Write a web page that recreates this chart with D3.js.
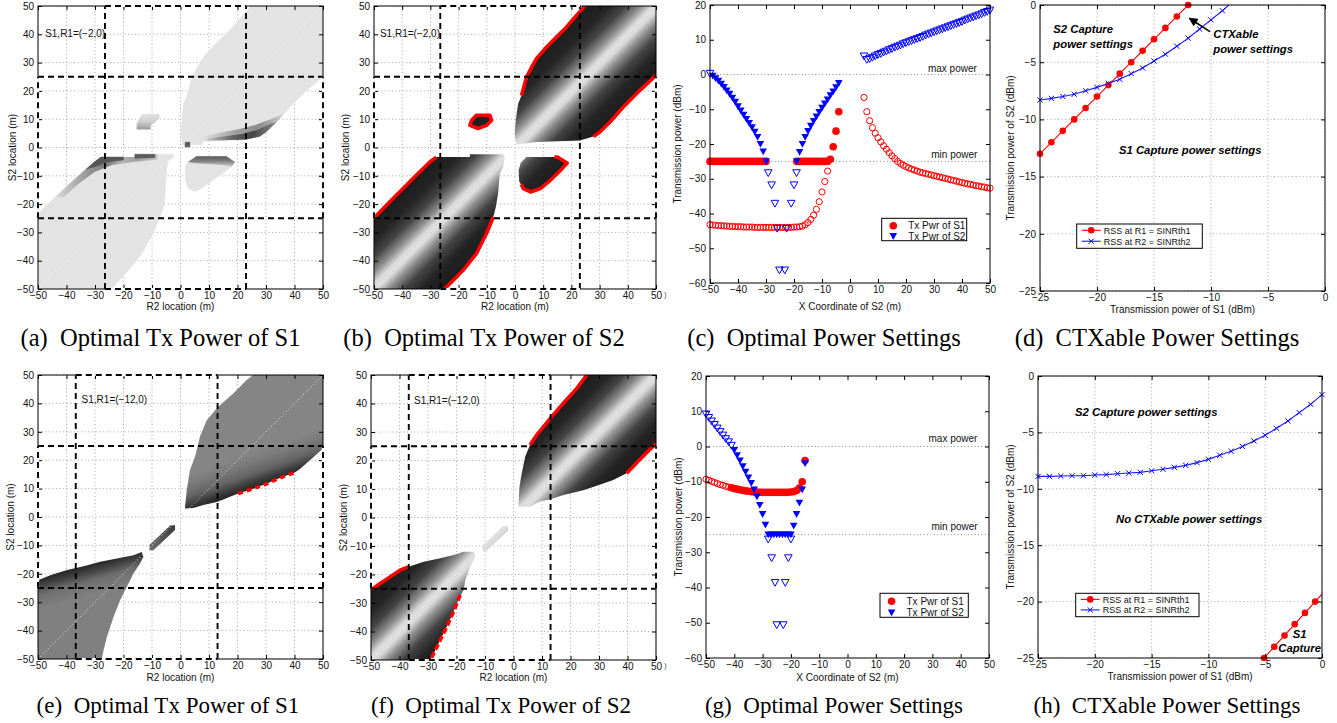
<!DOCTYPE html>
<html><head><meta charset="utf-8">
<script src="https://cdn.jsdelivr.net/npm/d3@7/dist/d3.min.js"></script>
<style>
body{margin:0;background:#fff;}
svg{display:block;font-family:"Liberation Sans",Arial,sans-serif;background:#fff;}
.cap{font-family:"Liberation Serif","Times New Roman",serif;white-space:pre;}
</style></head><body>
<svg id="fig" width="1337" height="723"></svg>
<script>
// ---------------- DATA ----------------
const heatTicks=[-50,-40,-30,-20,-10,0,10,20,30,40,50];
const powTicksY=[-60,-50,-40,-30,-20,-10,0,10,20];
const ctxTicks=[-25,-20,-15,-10,-5,0];
const diagLine=[[-50,-50],[50,50]];
const captionsTop=["(a)  Optimal Tx Power of S1","(b)  Optimal Tx Power of S2","(c)  Optimal Power Settings","(d)  CTXable Power Settings"];
const captionsBottom=["(e)  Optimal Tx Power of S1","(f)  Optimal Tx Power of S2","(g)  Optimal Power Settings","(h)  CTXable Power Settings"];

// (a) regions
const aDashX=[-26.5,23], aDashY=[-25,25];
const aRegionUR=[[0.6,1.0],[0.2,4.9],[0.5,10],[1.1,15.5],[2.3,18.4],[4.1,24.9],[5.9,28.4],[7.6,31.4],[11.2,35.5],[14.7,39.0],[18.3,42.6],[21.8,46.7],[24.8,50],[50,50],[50,25],[44.3,20.2],[38.4,14.3],[33.7,9],[30.1,5.5],[27.8,3.9],[23,2.8],[8,2.3],[7.6,1.0]];
const aBandUR=[[8,2.3],[23,2.8],[27.8,3.9],[30.1,5.5],[33.7,9],[36,11.7],[32,10.2],[27,8.2],[21,6.6],[14,5.2],[8,3.8]];
const aCoreUR=[[9,2.4],[23,2.8],[27.8,3.9],[30.1,5.5],[33.7,9],[31.5,8.4],[27,6.2],[22,4.9],[15,3.9],[10,3.3]];
const aDarkCell=[[1.6,0.2],[3.3,0.2],[3.3,1.9],[1.6,1.9]];
const aRegionLL=[[-50,-23.3],[-45,-18.5],[-40,-13.8],[-34.2,-8.5],[-30.2,-5.1],[-27.9,-3.4],[-16,-3.4],[-16,-2.4],[-2.5,-2.4],[-2.5,-3.6],[-4.2,-4.6],[-4.8,-6.9],[-5.2,-13],[-5.6,-20],[-7.2,-24.6],[-9.7,-30.4],[-13.5,-37.5],[-18.2,-43.4],[-22.5,-48.1],[-24.2,-50],[-50,-50]];
const aBandLL=[[-44,-17.5],[-40,-13.8],[-34.2,-8.5],[-30.2,-5.1],[-27.9,-3.4],[-16,-3.4],[-16,-2.4],[-8,-2.4],[-8,-4.2],[-16,-5],[-24,-6.2],[-30,-8.6],[-36,-13],[-41,-17.5]];
const aCoreLL1=[[-33,-7.6],[-30.2,-5.1],[-27.9,-3.4],[-20,-3.4],[-20,-4.4],[-26,-5.2],[-30,-6.8]];
const aCoreLL2=[[-16,-2.4],[-9,-2.4],[-9,-3.6],[-16,-3.8]];
const aIsland=[[-13.5,11.8],[-7.4,11.8],[-7.4,10.2],[-10.5,7.8],[-10.5,6.4],[-15.4,6.4],[-15.4,8.5]];
const aBlob=[[5.6,-3.1],[16.1,-3.1],[19.1,-5.1],[17.9,-6.8],[11.4,-11.5],[6.7,-14.8],[5,-15.6],[2.6,-14.4],[1.8,-11.5],[1.8,-6.8],[2.6,-5.1]];
const aBandBlob=[[5.6,-3.1],[16.1,-3.1],[19.1,-5.1],[17.9,-6.8],[15,-6.3],[10,-5.8],[5,-5.6],[2.6,-5.1]];

// (b) regions
const bDashX=[-26.5,23], bDashY=[-25,25];
const bRegionUR=[[0.5,1.1],[-0.1,4.9],[0.3,10],[1.1,15.5],[2.3,18.4],[4.1,24.9],[5.9,28.4],[7.6,31.4],[11.2,35.5],[14.7,39.0],[18.3,42.6],[21.8,46.7],[24.8,50],[50,50],[50,25.5],[44.3,20.2],[38.4,14.3],[33.7,9],[30.1,5.5],[27.8,3.9],[23,2.5],[7.6,1.9]];
const bRedUR1=[[2.3,18.4],[4.1,24.9],[5.9,28.4],[7.6,31.4],[11.2,35.5],[14.7,39.0],[18.3,42.6],[21.8,46.7],[24.8,50]];
const bRedUR2=[[50,25.5],[44.3,20.2],[38.4,14.3],[33.7,9],[30.1,5.5],[27.8,3.9]];
const bRegionLL=[[-50,-24.9],[-45,-19.8],[-39.7,-14.5],[-34.4,-9.2],[-30.2,-5.1],[-27.9,-3.4],[-16,-3.4],[-16,-2.4],[-4.2,-2.4],[-3.6,-3.4],[-4.2,-6.9],[-5.4,-9.2],[-6,-16.3],[-6.8,-21],[-7.7,-24.6],[-10.1,-30.4],[-13.7,-37.5],[-18.4,-43.4],[-23.1,-48.1],[-24.9,-50],[-50,-50]];
const bRedLL1=[[-50,-24.9],[-45,-19.8],[-39.7,-14.5],[-34.4,-9.2],[-30.2,-5.1],[-27.9,-3.4]];
const bRedLL2=[[-7.7,-24.6],[-10.1,-30.4],[-13.7,-37.5],[-18.4,-43.4],[-23.1,-48.1],[-24.9,-50]];
const bIsland=[[-13.7,11.4],[-8.9,11.4],[-8.3,9.6],[-10.1,7.8],[-13.1,6.7],[-16,7.8],[-15.4,9.6]];
const bBlob=[[4,-3.4],[15,-3.4],[18.5,-5.5],[16,-8.2],[12.5,-11.6],[9,-14.5],[5.5,-15.7],[3,-14.5],[1.5,-12],[1.3,-8],[2,-5.5]];
const bRedBlob=[[14,-3.4],[15,-3.4],[18.5,-5.5],[16,-8.2],[12.5,-11.6],[9,-14.5],[5.5,-15.7],[3,-14.5],[2.2,-13]];

// (e) regions
const eDashX=[-36.75,13], eDashY=[-25,25];
const eRegionUR=[[1.6,3.6],[2.2,9.5],[3.3,16.5],[5.1,21.2],[6.8,28.3],[9.2,34.1],[13.2,38.8],[18.5,43.5],[23.2,48.2],[25.5,50],[50,50],[50,24.1],[46,20.5],[42,17],[40.1,15.7],[35,13.8],[30,11.6],[25,9.8],[20.2,8.3],[15,6.2],[12.7,5.3],[8,4.2],[4.5,3.2],[1.6,3.0]];
const eRedUR=[[20.2,8.3],[25,9.8],[30,11.6],[35,13.8],[40.1,15.7]];
const eRegionLL=[[-50,-22.3],[-45.7,-20.5],[-39.8,-18.7],[-34,-17.3],[-28.2,-15.8],[-22.3,-14.6],[-16.5,-13.5],[-13.6,-12.3],[-13,-14],[-14.2,-16.4],[-16.5,-19.9],[-18.8,-24.6],[-21.2,-29.3],[-23.5,-35.2],[-25.8,-42.2],[-27,-46.9],[-27.6,-50],[-50,-50]];
const eIsland=[[-3.5,-2.9],[-1.9,-2.9],[-1.9,-4.6],[-9.5,-11.7],[-10.9,-11.7],[-10.9,-9.9]];

// (f) regions
const fDashX=[-36.75,13], fDashY=[-25,25];
const fRegionUR=[[1.8,3.8],[1.8,6.1],[2.1,10.8],[2.9,15.5],[4.1,21.3],[5.8,25.4],[8.2,29],[12.9,34.8],[17.5,40.1],[22.2,45.3],[25.7,50],[50,50],[50,26],[44.5,20.5],[39.7,15.5],[35,13.2],[29.2,11.1],[24.5,9.6],[17.5,7.9],[12.9,6.4],[9.3,5.6],[5.8,3.8]];
const fRedUR1=[[5.8,25.4],[8.2,29],[12.9,34.8],[17.5,40.1],[22.2,45.3],[25.7,50]];
const fRedUR2=[[39.7,15.5],[44.5,20.5],[50,26]];
const fRegionLL=[[-50,-25.4],[-46.7,-23.1],[-43.2,-20.8],[-39.7,-18.4],[-36.8,-17.3],[-31.5,-15.5],[-25.7,-14.3],[-21,-13.2],[-17.5,-12],[-14,-12],[-13.4,-13.7],[-15.2,-17.3],[-16.9,-21.9],[-17.5,-25.4],[-19.3,-28.9],[-21,-33],[-23.4,-38.3],[-25.7,-43],[-28,-47.7],[-29.2,-50],[-50,-50]];
const fRedLL1=[[-50,-25.4],[-46.7,-23.1],[-43.2,-20.8],[-39.7,-18.4],[-36.8,-17.3]];
const fRedLL2=[[-18.7,-27.2],[-21,-33],[-23.4,-38.3],[-25.7,-43],[-28,-47.7],[-29.2,-50]];
const fIsland=[[-3.5,-2.9],[-1.9,-2.9],[-1.9,-4.6],[-9.5,-11.7],[-10.9,-11.7],[-10.9,-9.9]];

// (c) optimal power settings, S1/R1 = (-2,0)
const cS1Open=[[-50,-43.2],[-49,-43.3],[-48,-43.4],[-47,-43.5],[-46,-43.5],[-45,-43.6],[-44,-43.6],[-43,-43.7],[-42,-43.7],[-41,-43.8],[-40,-43.8],[-39,-43.8],[-38,-43.9],[-37,-43.9],[-36,-43.9],[-35,-43.9],[-34,-44],[-33,-44],[-32,-44],[-31,-44],[-30,-44],[-29,-44],[-28,-44],[-27,-44],[-26,-44],[-25,-44],[-24,-44],[-23,-44],[-22,-44],[-21,-44],[-20,-43.9],[-19,-43.9],[-18,-43.8],[-17,-43.6],[-16,-43.2],[-15,-42.6],[-14,-41.7],[-13,-40.5],[-12,-38.8],[-11,-36.6],[-10,-33.8],[-9,-30.8],[-8,-27.8],
[5,-6.6],[6,-10.7],[7,-13.3],[8,-15.3],[9,-16.9],[10,-18.2],[11,-19.4],[12,-20.5],[13,-21.5],[14,-22.5],[15,-23.4],[16,-24.2],[17,-25.0],[18,-25.6],[19,-26.1],[20,-26.5],[21,-26.9],[22,-27.2],[23,-27.5],[24,-27.8],[25,-28.1],[26,-28.3],[27,-28.5],[28,-28.7],[29,-28.9],[30,-29.1],[31,-29.3],[32,-29.5],[33,-29.7],[34,-29.9],[35,-30.1],[36,-30.3],[37,-30.5],[38,-30.7],[39,-30.9],[40,-31.1],[41,-31.3],[42,-31.5],[43,-31.6],[44,-31.8],[45,-32.0],[46,-32.1],[47,-32.3],[48,-32.4],[49,-32.6],[50,-32.7]];
const cS1Filled=[[-50,-25],[-49,-25],[-48,-25],[-47,-25],[-46,-25],[-45,-25],[-44,-25],[-43,-25],[-42,-25],[-41,-25],[-40,-25],[-39,-25],[-38,-25],[-37,-25],[-36,-25],[-35,-25],[-34,-25],[-33,-25],[-32,-25],[-31,-25],[-30,-25],
[-19,-25],[-18,-25],[-17,-25],[-16,-25],[-15,-25],[-14,-25],[-13,-25],[-12,-25],[-11,-25],[-10,-25],[-9,-25],[-8,-25],[-7,-24.4],[-6,-20.8],[-5,-16.3],[-4,-10.7]];
const cS2Filled=[[-49,-0.4],[-48,-1.1],[-47,-1.8],[-46,-2.7],[-45,-3.6],[-44,-4.6],[-43,-5.6],[-42,-6.7],[-41,-7.9],[-40,-9.2],[-39,-10.4],[-38,-11.6],[-37,-12.8],[-36,-14.0],[-35,-15.2],[-34,-16.5],[-33,-18.0],[-32,-20.0],[-31,-22.2],[-30,-25],
[-19,-25],[-18,-22.3],[-17,-20],[-16,-18],[-15,-16.3],[-14,-14.8],[-13,-13.4],[-12,-12.1],[-11,-10.8],[-10,-9.6],[-9,-8.4],[-8,-7.2],[-7,-6.0],[-6,-4.9],[-5,-3.7],[-4,-2.5]];
const cS2Open=[[-50,0.3],[-29.2,-28.3],[-28,-31.8],[-26.8,-37.1],[-26,-44.3],[-25.2,-56.3],[-23.3,-56.3],[-22.6,-44.3],[-21,-37.1],[-20,-31.8],[-19.1,-28.3],
[5,5.3],[6,4.3],[7,4.5],[8,4.9],[9,5.3],[10,5.7],[11,6.0],[12,6.4],[13,6.7],[14,7.1],[15,7.4],[16,7.8],[17,8.1],[18,8.4],[19,8.8],[20,9.1],[21,9.4],[22,9.7],[23,10.0],[24,10.3],[25,10.6],[26,10.9],[27,11.3],[28,11.6],[29,11.9],[30,12.2],[31,12.5],[32,12.8],[33,13.1],[34,13.4],[35,13.7],[36,14.0],[37,14.3],[38,14.6],[39,14.9],[40,15.2],[41,15.6],[42,15.9],[43,16.2],[44,16.5],[45,16.8],[46,17.1],[47,17.4],[48,17.8],[49,18.1],[50,18.5]];

// (g) optimal power settings, S1/R1 = (-12,0)
const gS1Open=[[-50,-9.3],[-49,-9.6],[-48,-9.9],[-47,-10.2],[-46,-10.5],[-45,-10.8],[-44,-11.0],[-43,-11.3],[-42,-11.5]];
const gS1Filled=[[-41,-11.7],[-40,-11.9],[-39,-12.1],[-38,-12.3],[-37,-12.4],[-36,-12.6],[-35,-12.7],[-34,-12.8],[-33,-12.9],[-32,-12.9],[-31,-13],[-30,-13],[-29,-13],[-28,-13],[-27,-13],[-26,-13],[-25,-13],[-24,-13],[-23,-13],[-22,-13],[-21,-13],[-20,-12.9],[-19,-12.8],[-18,-12.5],[-17,-11.8],[-16,-10],[-15,-4]];
const gS2Open=[[-50,9.2],[-49,8.2],[-48,7.2],[-47,6.2],[-46,5.2],[-45,4.2],[-44,3.2],[-43,2.2],[-42,1.3],[-41,0.3],
[-28,-26.3],[-26.8,-31.6],[-25.6,-38.6],[-25,-50.6],[-22.7,-50.6],[-22,-38.6],[-20.9,-31.6],[-20,-26.3]];
const gS2Filled=[[-40,-1.0],[-39,-2.5],[-38,-4.0],[-37,-5.6],[-36,-7.2],[-35,-8.8],[-34,-10.4],[-33,-12.2],[-32,-14.2],[-31,-16.6],[-30,-19.2],[-29,-22.2],[-28,-25],[-27,-25],[-26,-25],[-25,-25],[-24,-25],[-23,-25],[-22,-25],[-21,-25],[-20,-25],[-19,-22.5],[-18,-19.2],[-17,-16],[-16,-12.2],[-15,-4.8]];

// (d) CTXable power settings
const dRss1=[[-25,-13],[-24,-12],[-23,-11],[-22,-10],[-21,-9],[-20,-8],[-19,-7],[-18,-6],[-17,-5],[-16,-4],[-15,-3],[-14,-2],[-13,-1],[-12,0]];
const dRss2=[[-25,-8.3],[-24,-8.16],[-23,-8.0],[-22,-7.8],[-21,-7.5],[-20,-7.2],[-19,-6.85],[-18,-6.5],[-17,-6.0],[-16,-5.5],[-15,-4.9],[-14,-4.3],[-13,-3.6],[-12,-2.9],[-11,-2.1],[-10,-1.3],[-9,-0.5],[-8,0.4]];
// (h)
const hRss1=[[-5.1,-25],[-4.2,-24],[-3.3,-23],[-2.4,-22],[-1.5,-21],[-0.6,-20],[0.3,-19]];
const hRss2=[[-25,-8.9],[-24,-8.9],[-23,-8.87],[-22,-8.84],[-21,-8.84],[-20,-8.78],[-19,-8.74],[-18,-8.66],[-17,-8.6],[-16,-8.54],[-15,-8.4],[-14,-8.27],[-13,-8.1],[-12,-7.92],[-11,-7.68],[-10,-7.39],[-9,-7.03],[-8,-6.68],[-7,-6.24],[-6,-5.76],[-5,-5.26],[-4,-4.64],[-3,-3.99],[-2,-3.25],[-1,-2.51],[0,-1.65]];

// ---------------- DRAWING ----------------
const svg=d3.select("#fig");
const defs=svg.append("defs");
const fmt=d3.format("d");
const FONT="Liberation Sans, Arial, sans-serif";
let clipN=0;
function panel(xd,xr,yd,yr){
  const x=d3.scaleLinear().domain(xd).range(xr);
  const y=d3.scaleLinear().domain(yd).range(yr);
  const g=svg.append("g");
  const id="clip"+(clipN++);
  defs.append("clipPath").attr("id",id).append("rect").attr("x",xr[0]).attr("y",yr[1]).attr("width",xr[1]-xr[0]).attr("height",yr[0]-yr[1]);
  const plot=g.append("g").attr("clip-path",`url(#${id})`);
  return {x,y,g,plot,xd,yd,xr,yr};
}
function pth(P,pts,close){return "M"+pts.map(p=>P.x(p[0]).toFixed(2)+","+P.y(p[1]).toFixed(2)).join("L")+(close?"Z":"");}
function grid(P,xt,yt){
  const gg=P.plot.append("g").attr("stroke","#8c8c8c").attr("stroke-width",0.8).attr("stroke-dasharray","1,2.6");
  xt.forEach(v=>gg.append("line").attr("x1",P.x(v)).attr("x2",P.x(v)).attr("y1",P.yr[0]).attr("y2",P.yr[1]));
  yt.forEach(v=>gg.append("line").attr("y1",P.y(v)).attr("y2",P.y(v)).attr("x1",P.xr[0]).attr("x2",P.xr[1]));
}
function axes(P,xt,yt,xlab,ylab,xlabY,ylabX){
  const g=P.g.append("g");
  g.append("g").attr("transform",`translate(0,${P.yr[0]})`).call(d3.axisBottom(P.x).tickValues(xt).tickSize(-4).tickPadding(3).tickFormat(fmt));
  g.append("g").attr("transform",`translate(0,${P.yr[1]})`).call(d3.axisTop(P.x).tickValues(xt).tickSize(-4).tickFormat(""));
  g.append("g").attr("transform",`translate(${P.xr[0]},0)`).call(d3.axisLeft(P.y).tickValues(yt).tickSize(-4).tickPadding(4).tickFormat(fmt));
  g.append("g").attr("transform",`translate(${P.xr[1]},0)`).call(d3.axisRight(P.y).tickValues(yt).tickSize(-4).tickFormat(""));
  g.selectAll(".domain").remove();
  g.selectAll(".tick line").attr("stroke","#000");
  g.selectAll(".tick text").attr("font-size","10px").attr("font-family",FONT).attr("fill","#111");
  P.g.append("rect").attr("x",P.xr[0]).attr("y",P.yr[1]).attr("width",P.xr[1]-P.xr[0]).attr("height",P.yr[0]-P.yr[1]).attr("fill","none").attr("stroke","#000").attr("stroke-width",1);
  P.g.append("text").attr("x",(P.xr[0]+P.xr[1])/2).attr("y",xlabY).attr("text-anchor","middle").attr("font-size","10px").attr("fill","#111").text(xlab);
  P.g.append("text").attr("transform",`translate(${ylabX},${(P.yr[0]+P.yr[1])/2}) rotate(-90)`).attr("text-anchor","middle").attr("dy","0.35em").attr("font-size","10px").attr("fill","#111").text(ylab);
}
function grad(id,P,p1,p2,stops){
  const lg=defs.append("linearGradient").attr("id",id).attr("gradientUnits","userSpaceOnUse")
    .attr("x1",P.x(p1[0])).attr("y1",P.y(p1[1])).attr("x2",P.x(p2[0])).attr("y2",P.y(p2[1]));
  stops.forEach(s=>lg.append("stop").attr("offset",s[0]).attr("stop-color",s[1]));
  return `url(#${id})`;
}
function region(P,pts,fill){P.plot.append("path").attr("d",pth(P,pts,true)).attr("fill",fill).attr("stroke",fill.startsWith("url")?"none":fill).attr("stroke-width",0.5);}
function redEdge(P,pts,close,dash){const p=P.plot.append("path").attr("d",pth(P,pts,close)).attr("fill","none").attr("stroke","#ff0000").attr("stroke-width",3.6).attr("stroke-linejoin","round");if(dash)p.attr("stroke-dasharray",dash);}
function diag(P){P.plot.append("path").attr("d",pth(P,diagLine,false)).attr("stroke","#fff").attr("stroke-width",0.9).attr("stroke-dasharray","1,2.5").attr("fill","none");}
function dashes(P,dx,dy){
  const segs=[];
  dx.forEach(v=>segs.push([[v,-50],[v,50],false]));
  dy.forEach(v=>segs.push([[-50,v],[50,v],false]));
  segs.push([[-50,dy[0]],[-50,dy[1]],true],[[50,dy[0]],[50,dy[1]],true],[[dx[0],50],[dx[1],50],true],[[dx[0],-50],[dx[1],-50],true]);
  segs.forEach(s=>{
    const a=[P.x(s[0][0]),P.y(s[0][1])],b=[P.x(s[1][0]),P.y(s[1][1])];
    if(s[2]) P.g.append("line").attr("x1",a[0]).attr("y1",a[1]).attr("x2",b[0]).attr("y2",b[1]).attr("stroke","#fff").attr("stroke-width",2.2);
    P.g.append("line").attr("x1",a[0]).attr("y1",a[1]).attr("x2",b[0]).attr("y2",b[1]).attr("stroke","#000").attr("stroke-width",1.9).attr("stroke-dasharray","6,4");
  });
}
function label(P,pos,txt,opts){
  const t=P.g.append("text").attr("x",P.x(pos[0])).attr("y",P.y(pos[1])).attr("font-size",(opts&&opts.size)||"10px").attr("fill","#111").text(txt);
  if(opts&&opts.anchor)t.attr("text-anchor",opts.anchor);
  if(opts&&opts.bi)t.attr("font-weight","bold").attr("font-style","italic").attr("fill","#000");
  return t;
}

// ---------- heat panels ----------
function heatPanel(xr,yr){const P=panel([-50,50],xr,[-50,50],yr);grid(P,heatTicks,heatTicks);return P;}
const diagStops=[[0,"#1c1c1c"],[0.16,"#242424"],[0.28,"#434343"],[0.39,"#8e8e8e"],[0.47,"#dcdcdc"],[0.53,"#dcdcdc"],[0.61,"#8e8e8e"],[0.72,"#434343"],[0.84,"#242424"],[1,"#1c1c1c"]];

// (a)
const PA=heatPanel([38,323],[289,6]);
const LIGHT="#e3e3e3";
region(PA,aRegionUR,LIGHT);
region(PA,aRegionLL,LIGHT);
region(PA,aIsland,grad("gAi",PA,[0,11.8],[0,6.4],[[0,"#e2e2e2"],[0.5,"#cfcfcf"],[1,"#9a9a9a"]]));
region(PA,aBlob,LIGHT);
region(PA,aBandUR,grad("gAb1",PA,[8,0],[36,0],[[0,"#e0e0e0"],[0.4,"#a0a0a0"],[0.7,"#8c8c8c"],[1,"#cccccc"]]));
region(PA,aCoreUR,grad("gAc1",PA,[9,0],[34,0],[[0,"#cacaca"],[0.4,"#5c5c5c"],[0.65,"#474747"],[1,"#8c8c8c"]]));
region(PA,aDarkCell,"#5a5a5a");
region(PA,aBandLL,grad("gAb2",PA,[-44,0],[-8,0],[[0,"#dadada"],[0.3,"#9a9a9a"],[0.5,"#7a7a7a"],[0.65,"#b4b4b4"],[0.8,"#a0a0a0"],[1,"#c8c8c8"]]));
region(PA,aCoreLL1,"#555555");
region(PA,aCoreLL2,"#5c5c5c");
region(PA,aBandBlob,grad("gAb3",PA,[0,-3.1],[0,-6.8],[[0,"#5a5a5a"],[0.45,"#7e7e7e"],[1,"#d6d6d6"]]));
diag(PA);
axes(PA,heatTicks,heatTicks,"R2 location (m)","S2 location (m)",309.5,12.7);
dashes(PA,aDashX,aDashY);
label(PA,[-47.5,39.2],"S1,R1=(\u22122,0)");

// (b)
const PB=heatPanel([374,656],[289,6]);
const gB=grad("gB",PB,[-12.5,12.5],[12.5,-12.5],diagStops);
region(PB,bRegionUR,gB);region(PB,bRegionLL,gB);region(PB,bIsland,gB);region(PB,bBlob,gB);
diag(PB);
redEdge(PB,bRedUR1);redEdge(PB,bRedUR2);redEdge(PB,bRedLL1);redEdge(PB,bRedLL2);redEdge(PB,bIsland,true);redEdge(PB,bRedBlob);
axes(PB,heatTicks,heatTicks,"R2 location (m)","S2 location (m)",309.5,345);
dashes(PB,bDashX,bDashY);
label(PB,[-47.9,39.2],"S1,R1=(\u22122,0)");

// (e)
const PE=heatPanel([38,323],[659,375]);
region(PE,eRegionUR,grad("gE1",PE,[20,8.3],[16,19.6],[[0,"#262626"],[0.15,"#3c3c3c"],[0.4,"#656565"],[0.75,"#7c7c7c"],[1,"#858585"]]));
region(PE,eRegionLL,grad("gE2",PE,[-30,-16.8],[-27.35,-26.4],[[0,"#2c2c2c"],[0.2,"#444444"],[0.5,"#6e6e6e"],[1,"#808080"]]));
region(PE,eIsland,grad("gE3",PE,[-2,-3],[-10,-11],[[0,"#3a3a3a"],[1,"#6a6a6a"]]));
diag(PE);
redEdge(PE,eRedUR,false,"5,4");
axes(PE,heatTicks,heatTicks,"R2 location (m)","S2 location (m)",680.5,10);
dashes(PE,eDashX,eDashY);
label(PE,[-34.7,40],"S1,R1=(\u221212,0)");

// (f)
const PF=heatPanel([371,656],[660,375]);
const gF=grad("gF",PF,[-12.5,12.5],[12.5,-12.5],diagStops);
region(PF,fRegionUR,gF);region(PF,fRegionLL,gF);region(PF,fIsland,gF);
diag(PF);
redEdge(PF,fRedUR1);redEdge(PF,fRedUR2);redEdge(PF,fRedLL1);redEdge(PF,fRedLL2,false,"6,3");
axes(PF,heatTicks,heatTicks,"R2 location (m)","S2 location (m)",680.5,343.5);
dashes(PF,fDashX,fDashY);
label(PF,[-34.9,40],"S1,R1=(\u221212,0)");

// ---------- power setting panels ----------
const triDown="M-3.8,-3.1L3.8,-3.1L0,3.7Z";
function inDom(P,d){return d[0]>=P.xd[0]-1e-6&&d[0]<=P.xd[1]+1e-6&&d[1]>=P.yd[0]-1e-6&&d[1]<=P.yd[1]+1e-6;}
function powerPanel(P,s1o,s1f,s2o,s2f,maxPos,minPos,legendBox,xlabY,ylabX){
  [0,-25].forEach(v=>P.plot.append("line").attr("x1",P.xr[0]).attr("x2",P.xr[1]).attr("y1",P.y(v)).attr("y2",P.y(v)).attr("stroke","#888").attr("stroke-width",1).attr("stroke-dasharray","1,2.4"));
  label(P,maxPos,"max power",{anchor:"end"});
  label(P,minPos,"min power",{anchor:"end"});
  const m=P.g.append("g");
  m.selectAll(".s1o").data(s1o.filter(d=>inDom(P,d))).join("circle").attr("cx",d=>P.x(d[0])).attr("cy",d=>P.y(d[1])).attr("r",3.1).attr("fill","none").attr("stroke","#ff0000").attr("stroke-width",1);
  m.selectAll(".s1f").data(s1f.filter(d=>inDom(P,d))).join("circle").attr("cx",d=>P.x(d[0])).attr("cy",d=>P.y(d[1])).attr("r",3.8).attr("fill","#ff0000");
  m.selectAll(".s2o").data(s2o.filter(d=>inDom(P,d))).join("path").attr("d",triDown).attr("transform",d=>`translate(${P.x(d[0])},${P.y(d[1])})`).attr("fill","none").attr("stroke","#0000ff").attr("stroke-width",1);
  m.selectAll(".s2f").data(s2f.filter(d=>inDom(P,d))).join("path").attr("d",triDown).attr("transform",d=>`translate(${P.x(d[0])},${P.y(d[1])})`).attr("fill","#0000ff");
  axes(P,heatTicks,powTicksY,"X Coordinate of S2 (m)","Transmission power (dBm)",xlabY,ylabX);
  const [x0,y0,x1,y1]=legendBox;
  const L=P.g.append("g");
  L.append("rect").attr("x",x0).attr("y",y0).attr("width",x1-x0).attr("height",y1-y0).attr("fill","#fff").attr("stroke","#000").attr("stroke-width",1);
  const r1=y0+(y1-y0)*0.33,r2=y0+(y1-y0)*0.8;
  L.append("circle").attr("cx",x0+11.6).attr("cy",r1).attr("r",3.8).attr("fill","#ff0000");
  L.append("path").attr("d",triDown).attr("transform",`translate(${x0+11.6},${r2})`).attr("fill","#0000ff");
  L.append("text").attr("x",x0+26.5).attr("y",r1+3.5).attr("font-size","10px").attr("fill","#111").text("Tx Pwr of S1");
  L.append("text").attr("x",x0+26.5).attr("y",r2+3.5).attr("font-size","10px").attr("fill","#111").text("Tx Pwr of S2");
}
const PC=panel([-50,50],[710,990],[-60,20],[283,5]);
powerPanel(PC,cS1Open,cS1Filled,cS2Open,cS2Filled,[45.3,0.8],[45.5,-23.9],[881.7,218.3,966.7,240.7],310,677);
const PG=panel([-50,50],[706,989],[-60,20],[658,376]);
powerPanel(PG,gS1Open,gS1Filled,gS2Open,gS2Filled,[45.9,1.2],[46,-23.7],[880,593.3,968.3,617.3],680.5,678);

// ---------- CTXable panels ----------
function ctxPanel(P,r1,r2,legendBox,xlabY,ylabX){
  grid(P,ctxTicks,ctxTicks);
  const line=d3.line().x(d=>P.x(d[0])).y(d=>P.y(d[1]));
  P.plot.append("path").attr("d",line(r1)).attr("fill","none").attr("stroke","#ff0000").attr("stroke-width",1.1);
  P.plot.append("path").attr("d",line(r2)).attr("fill","none").attr("stroke","#1a1aff").attr("stroke-width",1.1);
  const m=P.g.append("g");
  m.selectAll("circle").data(r1.filter(d=>inDom(P,d))).join("circle").attr("cx",d=>P.x(d[0])).attr("cy",d=>P.y(d[1])).attr("r",3.3).attr("fill","#ff0000");
  m.selectAll(".xm").data(r2.filter(d=>inDom(P,d))).join("path").attr("d","M-2.6,-2.6L2.6,2.6M-2.6,2.6L2.6,-2.6").attr("transform",d=>`translate(${P.x(d[0])},${P.y(d[1])})`).attr("stroke","#0000ff").attr("stroke-width",1);
  axes(P,ctxTicks,ctxTicks,"Transmission power of S1 (dBm)","Transmission power of S2 (dBm)",xlabY,ylabX);
  const [x0,y0,x1,y1]=legendBox;
  const L=P.g.append("g");
  L.append("rect").attr("x",x0).attr("y",y0).attr("width",x1-x0).attr("height",y1-y0).attr("fill","#fff").attr("stroke","#000").attr("stroke-width",1);
  const a=y0+(y1-y0)*0.26,b=y0+(y1-y0)*0.71;
  L.append("line").attr("x1",x0+5).attr("x2",x0+24).attr("y1",a).attr("y2",a).attr("stroke","#ff0000").attr("stroke-width",1.1);
  L.append("circle").attr("cx",x0+14.5).attr("cy",a).attr("r",3.3).attr("fill","#ff0000");
  L.append("line").attr("x1",x0+5).attr("x2",x0+24).attr("y1",b).attr("y2",b).attr("stroke","#1a1aff").attr("stroke-width",1.1);
  L.append("path").attr("d","M-2.6,-2.6L2.6,2.6M-2.6,2.6L2.6,-2.6").attr("transform",`translate(${x0+14.5},${b})`).attr("stroke","#0000ff").attr("stroke-width",1);
  L.append("text").attr("x",x0+27).attr("y",a+3.3).attr("font-size","9px").attr("fill","#111").text("RSS at R1 = SINRth1");
  L.append("text").attr("x",x0+27).attr("y",b+3.3).attr("font-size","9px").attr("fill","#111").text("RSS at R2 = SINRth2");
}
const PD=panel([-25,0],[1040,1325],[-25,0],[291,5]);
ctxPanel(PD,dRss1,dRss2,[1076.7,224,1202.3,248.3],312.5,1010);
const BI={bi:true,size:"11.3px"};
label(PD,[-23.83,-2.47],"S2 Capture",BI);
label(PD,[-23.83,-3.73],"power settings",BI);
label(PD,[-9.8,-2.91],"CTXable",BI);
label(PD,[-9.8,-4.17],"power settings",BI);
label(PD,[-18.07,-13.02],"S1 Capture power settings",BI);
defs.append("marker").attr("id","arrowHead").attr("viewBox","0 0 10 10").attr("refX",9).attr("refY",5).attr("markerWidth",9).attr("markerHeight",9).attr("markerUnits","userSpaceOnUse").attr("orient","auto")
  .append("path").attr("d","M0,0L10,5L0,10Z").attr("fill","#000");
PD.g.append("line").attr("x1",PD.x(-10.09)).attr("y1",PD.y(-2.33)).attr("x2",PD.x(-11.9)).attr("y2",PD.y(-1.16)).attr("stroke","#000").attr("stroke-width",1.6).attr("marker-end","url(#arrowHead)");

const PH=panel([-25,0],[1038,1322],[-25,0],[658,376]);
ctxPanel(PH,hRss1,hRss2,[1075.7,593.3,1199,616.7],680,1010);
label(PH,[-21.74,-3.52],"S2 Capture power settings",BI);
label(PH,[-18.13,-13.0],"No CTXable power settings",BI);
label(PH,[-2.58,-23.25],"S1",BI);
label(PH,[-3.85,-24.44],"Capture",BI);

// stray edge glyphs (cut-off characters at the left of panels c and g)
svg.append("text").attr("x",664).attr("y",297).attr("font-size","8px").attr("fill","#555").text(")");
svg.append("text").attr("x",664).attr("y",668).attr("font-size","8px").attr("fill","#555").text(")");

// captions
const capTopX=[160.5,484,824,1157], capBotX=[168,501,834,1167];
captionsTop.forEach((t,i)=>svg.append("text").attr("class","cap").attr("x",capTopX[i]).attr("y",345.5).attr("text-anchor","middle").attr("font-size","24.5px").attr("fill","#000").text(t));
captionsBottom.forEach((t,i)=>svg.append("text").attr("class","cap").attr("x",capBotX[i]).attr("y",713).attr("text-anchor","middle").attr("font-size","23px").attr("fill","#000").text(t));
</script>
</body></html>
